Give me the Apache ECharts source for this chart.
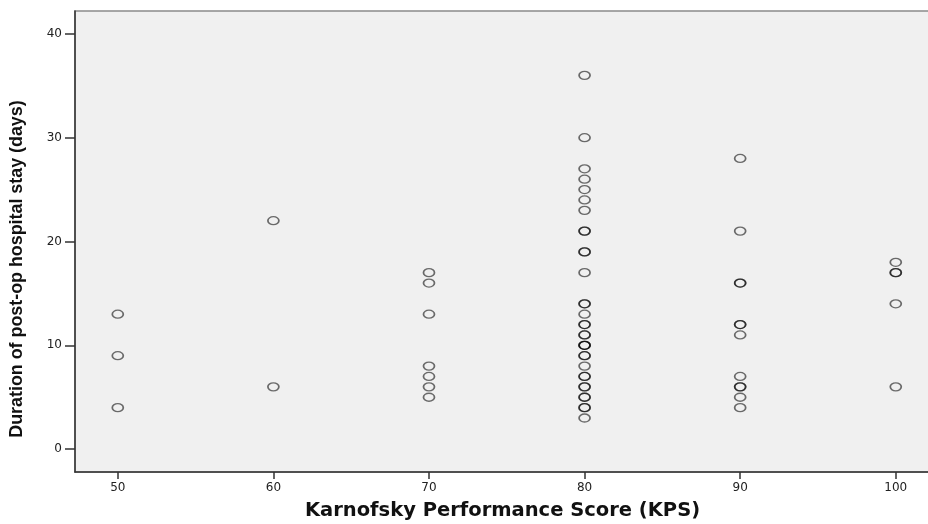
<!DOCTYPE html>
<html>
<head>
<meta charset="utf-8">
<script src="https://cdn.jsdelivr.net/npm/echarts@6/dist/echarts.min.js"></script>
<style>
html,body{margin:0;padding:0;background:#fff;}
#c{width:928px;height:524px;}
</style>
</head>
<body>
<div id="c"></div>
<script>
// Duration of post-op hospital stay (days) by KPS group (duplicates = overlapping cases)
const kps50 = [13, 9, 4];
const kps60 = [22, 6];
const kps70 = [17, 16, 13, 8, 7, 6, 5];
const kps80 = [36, 30, 27, 26, 25, 24, 23, 21, 21, 19, 19, 17, 14, 14, 13, 12, 12, 11, 11, 10, 10, 10, 9, 9, 8, 7, 7, 6, 6, 5, 5, 4, 4, 3];
const kps90 = [28, 21, 16, 16, 12, 12, 11, 7, 6, 6, 5, 4];
const kps100 = [18, 17, 17, 14, 6];
const groups = [[50, kps50], [60, kps60], [70, kps70], [80, kps80], [90, kps90], [100, kps100]];
const xTicks = [50, 60, 70, 80, 90, 100];
const yTicks = [0, 10, 20, 30, 40];
const xTitle = 'Karnofsky Performance Score (KPS)';
const yTitle = 'Duration of post-op hospital stay (days)';

const points = [];
groups.forEach(([k, arr]) => arr.forEach(v => points.push([k, v])));

const chart = echarts.init(document.getElementById('c'), null, {renderer: 'canvas'});
chart.setOption({
  animation: false,
  backgroundColor: '#ffffff',
  grid: {
    left: 75, top: 11, right: -2, bottom: 52,
    containLabel: false, outerBoundsMode: 'none',
    show: true, backgroundColor: '#f0f0f0', borderColor: '#8a8a8a', borderWidth: 1.5
  },
  graphic: [{
    type: 'text',
    x: 26, y: 269,
    rotation: Math.PI / 2,
    scaleX: 0.94,
    style: {
      text: yTitle,
      fontFamily: '"Liberation Sans", Arial, sans-serif',
      fontWeight: 'bold', fontSize: 19, fill: '#111',
      align: 'center', verticalAlign: 'bottom'
    }
  }],
  xAxis: {
    type: 'value', min: 47.25, max: 102.2,
    name: xTitle,
    nameLocation: 'middle', nameGap: 29,
    nameTextStyle: {fontFamily: 'DejaVu Sans', fontWeight: 'bold', fontSize: 19.5, color: '#111'},
    splitLine: {show: false},
    axisLine: {show: true, onZero: false, lineStyle: {color: '#333', width: 1.5}},
    axisTick: {show: true, customValues: xTicks, length: 7, lineStyle: {color: '#333', width: 1.5}},
    axisLabel: {customValues: xTicks, margin: 10, fontFamily: 'DejaVu Sans', fontSize: 12, color: '#222'}
  },
  yAxis: {
    type: 'value', min: -2.2, max: 42.2,
    splitLine: {show: false},
    axisLine: {show: true, onZero: false, lineStyle: {color: '#333', width: 1.5}},
    axisTick: {show: true, customValues: yTicks, length: 10, lineStyle: {color: '#333', width: 1.5}},
    axisLabel: {customValues: yTicks, margin: 13, fontFamily: 'DejaVu Sans', fontSize: 12, color: '#222'}
  },
  series: [{
    type: 'scatter',
    data: points,
    symbol: 'circle',
    symbolSize: [11, 8],
    itemStyle: {color: 'rgba(0,0,0,0)', borderColor: 'rgba(0,0,0,0.7)', borderWidth: 1.5}
  }]
});
</script>
</body>
</html>
